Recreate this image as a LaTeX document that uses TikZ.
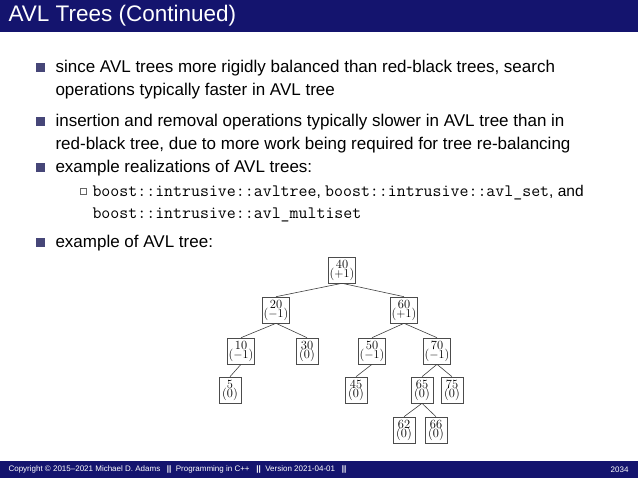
\documentclass[tikz,border=0pt]{standalone}
\usepackage{fontspec}
\setmainfont{Liberation Sans}
\newfontfamily\treefont{Latin Modern Roman}
\begin{document}
\begin{tikzpicture}[x=1pt,y=-1pt,
  tn/.style={draw=black!70,line width=0.6pt,inner sep=1pt,minimum width=22pt,minimum height=26pt,align=center,font=\treefont\fontsize{12.5}{10}\selectfont},
  ed/.style={draw=black!75,line width=0.6pt},
  bul/.style={fill={rgb,255:red,70;green,70;blue,120},minimum size=9pt,inner sep=0pt},
  txt/.style={anchor=west,font=\fontsize{17}{20}\selectfont}]
\useasboundingbox (0,0) rectangle (638,478);
\fill[fill={rgb,255:red,20;green,20;blue,110}] (0,0) rectangle (638,32);
\node[anchor=west,text=white,font=\fontsize{22.5}{26}\selectfont] (title) at (5,16) {AVL Trees (Continued)};
\fill[fill={rgb,255:red,20;green,20;blue,110}] (0,461) rectangle (638,478);
\node[anchor=west,text=white,font=\fontsize{8}{9}\selectfont] (foot) at (5,469.5) {Copyright \textcopyright\ 2015--2021 Michael D. Adams \ \ \textbf{||}\ \ Programming in C++ \ \ \textbf{||}\ \ Version 2021-04-01 \ \ \textbf{||}};
\node[anchor=east,text=white,font=\fontsize{8}{9}\selectfont] (pg) at (632,469.5) {2034};
\node[bul] (b1) at (40,68) {};
\node[txt] (t1) at (52,68) {since AVL trees more rigidly balanced than red-black trees, search};
\node[txt] (t1b) at (52,91) {operations typically faster in AVL tree};
\node[bul] (b2) at (40,122) {};
\node[txt] (t2) at (52,122) {insertion and removal operations typically slower in AVL tree than in};
\node[txt] (t2b) at (52,145) {red-black tree, due to more work being required for tree re-balancing};
\node[bul] (b3) at (40,168) {};
\node[txt] (t3) at (52,168) {example realizations of AVL trees:};
\node[draw=black!60,minimum size=6pt,inner sep=0pt] (sb) at (83,191) {};
\node[txt,font=\fontsize{15.5}{18}\selectfont] (t4) at (89,193) {{\ttfamily\fontsize{17.4}{18}\selectfont boost::intrusive::avltree}, {\ttfamily\fontsize{17.4}{18}\selectfont boost::intrusive::avl\_set}, and};
\node[txt] (t4b) at (89,215) {\ttfamily\fontsize{17.4}{18}\selectfont boost::intrusive::avl\_multiset};
\node[bul] (b4) at (40,243) {};
\node[txt] (t5) at (52,243) {example of AVL tree:};
\node[tn] (n40) at (342,270) {40\\[-1pt]($+1$)};
\node[tn] (n20) at (276,310) {20\\[-1pt]($-1$)};
\node[tn] (n60) at (404,310) {60\\[-1pt]($+1$)};
\node[tn] (n10) at (241,351) {10\\[-1pt]($-1$)};
\node[tn] (n30) at (307,351) {30\\[-1pt](0)};
\node[tn] (n50) at (372,351) {50\\[-1pt]($-1$)};
\node[tn] (n70) at (437,351) {70\\[-1pt]($-1$)};
\node[tn] (n5) at (230,390) {5\\[-1pt](0)};
\node[tn] (n45) at (356,390) {45\\[-1pt](0)};
\node[tn] (n65) at (422,390) {65\\[-1pt](0)};
\node[tn] (n75) at (452,390) {75\\[-1pt](0)};
\node[tn] (n62) at (404,430) {62\\[-1pt](0)};
\node[tn] (n66) at (436,430) {66\\[-1pt](0)};
\draw[ed] (n40.south) -- (n20.north);
\draw[ed] (n40.south) -- (n60.north);
\draw[ed] (n20.south) -- (n10.north);
\draw[ed] (n20.south) -- (n30.north);
\draw[ed] (n60.south) -- (n50.north);
\draw[ed] (n60.south) -- (n70.north);
\draw[ed] (n10.south) -- (n5.north);
\draw[ed] (n50.south) -- (n45.north);
\draw[ed] (n70.south) -- (n65.north);
\draw[ed] (n70.south) -- (n75.north);
\draw[ed] (n65.south) -- (n62.north);
\draw[ed] (n65.south) -- (n66.north);
\end{tikzpicture}
\end{document}
